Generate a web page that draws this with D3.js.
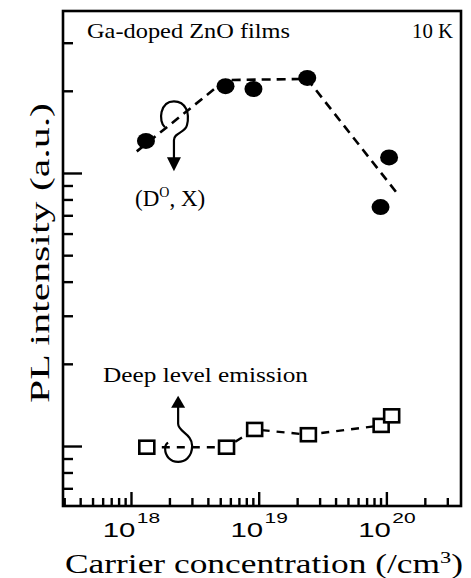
<!DOCTYPE html>
<html>
<head>
<meta charset="utf-8">
<script src="https://cdn.jsdelivr.net/npm/d3@7"></script>
<style>
  html, body { margin: 0; padding: 0; background: #fff; }
  svg { display: block; }
  .serif { font-family: "Liberation Serif", "Times New Roman", Times, serif; }
  .sans { font-family: "Liberation Sans", Arial, Helvetica, sans-serif; }
</style>
</head>
<body>
<svg id="chart" width="471" height="578"></svg>
<script>
// ---- data ----
const donorX = [1.31e18, 5.5e18, 9.1e18, 2.4e19, 1.05e20, 0.9e20];
const donorY = [13.1, 20.8, 20.3, 22.3, 11.4, 7.5];
const fitX = [1.11e18, 5.5e18, 2.4e19, 1.22e20];
const fitY = [12.0, 21.9, 22.1, 8.4];
const deepX = [1.33e18, 5.6e18, 9.3e18, 2.45e19, 9.1e19, 1.1e20];
const deepY = [0.99, 0.99, 1.15, 1.10, 1.19, 1.29];
const xMajorTicks = [1e18, 1e19, 1e20];
const xTickExponents = ["18", "19", "20"];
const xMinorTicks = [3e17,4e17,5e17,6e17,7e17,8e17,9e17,
                     2e18,3e18,4e18,5e18,6e18,7e18,8e18,9e18,
                     2e19,3e19,4e19,5e19,6e19,7e19,8e19,9e19,
                     2e20,3e20];
const yMajorTicks = [1, 10];
const yMinorTicks = [0.7,0.8,0.9,2,3,4,5,6,7,8,9,20,30];
const xDomain = [2.935e17, 3.84e20];
const yDomain = [0.603, 39.2];
const donorArrowAnchor = [2.17e18, 13.4];
const deepArrowAnchor = [2.34e18, 1.38];

// ---- layout ----
const L = 63, R = 461, T = 11, B = 506;
const svg = d3.select("#chart");
const x = d3.scaleLog().domain(xDomain).range([L, R]);
const y = d3.scaleLog().domain(yDomain).range([B, T]);

// frame
svg.append("rect").attr("x", L).attr("y", T).attr("width", R - L).attr("height", B - T)
  .attr("fill", "none").attr("stroke", "#000").attr("stroke-width", 2.6);

function styleAxis(g) {
  g.select(".domain").remove();
  g.selectAll(".tick line").attr("stroke", "#000").attr("stroke-width", 2.4);
}

// y axis ticks (inward)
svg.append("g").attr("transform", `translate(${L},0)`)
  .call(d3.axisLeft(y).tickValues(yMajorTicks).tickSizeInner(-19).tickSizeOuter(0).tickFormat(""))
  .call(styleAxis);
svg.append("g").attr("transform", `translate(${L},0)`)
  .call(d3.axisLeft(y).tickValues(yMinorTicks).tickSizeInner(-10).tickSizeOuter(0).tickFormat(""))
  .call(styleAxis);

// x axis ticks (inward)
const xMajG = svg.append("g").attr("transform", `translate(0,${B})`)
  .call(d3.axisBottom(x).tickValues(xMajorTicks).tickSizeInner(-14).tickSizeOuter(0).tickFormat(""))
  .call(styleAxis);
svg.append("g").attr("transform", `translate(0,${B})`)
  .call(d3.axisBottom(x).tickValues(xMinorTicks).tickSizeInner(-8).tickSizeOuter(0).tickFormat(""))
  .call(styleAxis);
xMajG.attr("font-family", null);

// x tick labels 10^n
xMajG.selectAll(".tick text").each(function(d, i) {
  const t = d3.select(this);
  t.text(null).attr("y", 31).attr("dy", null).attr("class", "sans")
    .attr("fill", "#000").attr("font-size", 21)
    .attr("text-anchor", "middle").attr("transform", "scale(1.4,1)");
  t.append("tspan").text("10");
  t.append("tspan").attr("dy", -14).attr("dx", 1).attr("font-size", 15).text(xTickExponents[i]);
});

// axis titles
svg.append("text").attr("class", "serif").attr("x", 264).attr("y", 573).attr("text-anchor", "middle")
  .attr("font-size", 27)
  .attr("textLength", 398).attr("lengthAdjust", "spacingAndGlyphs")
  .call(t => {
    t.append("tspan").text("Carrier concentration (/cm");
    t.append("tspan").attr("dy", -10).attr("font-size", 17).text("3");
    t.append("tspan").attr("dy", 10).text(")");
  });

svg.append("text").attr("class", "serif").attr("transform", "translate(49,253) rotate(-90)")
  .attr("text-anchor", "middle").attr("font-size", 27)
  .attr("textLength", 300).attr("lengthAdjust", "spacingAndGlyphs")
  .text("PL intensity (a.u.)");

// in-plot labels
svg.append("text").attr("class", "serif").attr("x", 87).attr("y", 38).attr("font-size", 21)
  .attr("textLength", 203).attr("lengthAdjust", "spacingAndGlyphs").text("Ga-doped ZnO films");
svg.append("text").attr("class", "serif").attr("x", 412).attr("y", 38).attr("font-size", 21)
  .attr("textLength", 41).attr("lengthAdjust", "spacingAndGlyphs").text("10 K");
svg.append("text").attr("class", "serif").attr("x", 103).attr("y", 382).attr("font-size", 20)
  .attr("textLength", 205).attr("lengthAdjust", "spacingAndGlyphs").text("Deep level emission");
svg.append("text").attr("class", "serif").attr("x", 135).attr("y", 206).attr("font-size", 23)
  .call(t => {
    t.append("tspan").text("(D");
    t.append("tspan").attr("dy", -9).attr("font-size", 14).text("O");
    t.append("tspan").attr("dy", 9).text(", X)");
  });

// dashed lines
const line = d3.line().x(d => x(d[0])).y(d => y(d[1]));
svg.append("path").datum(d3.zip(fitX, fitY)).attr("d", line)
  .attr("fill", "none").attr("stroke", "#000").attr("stroke-width", 2.6)
  .attr("stroke-dasharray", "9,6");
svg.append("path").datum(d3.zip(deepX, deepY)).attr("d", line)
  .attr("fill", "none").attr("stroke", "#000").attr("stroke-width", 2.4)
  .attr("stroke-dasharray", "8,7");

// donor-bound exciton points
svg.append("g").selectAll("ellipse").data(d3.zip(donorX, donorY)).join("ellipse")
  .attr("cx", d => x(d[0])).attr("cy", d => y(d[1])).attr("rx", 9).attr("ry", 8)
  .attr("fill", "#000");

// deep level points (open squares)
svg.append("g").selectAll("rect").data(d3.zip(deepX, deepY)).join("rect")
  .attr("x", d => x(d[0]) - 7.5).attr("y", d => y(d[1]) - 6.5)
  .attr("width", 15).attr("height", 13)
  .attr("fill", "#fff").attr("stroke", "#000").attr("stroke-width", 2.6);

// curly arrows
const a1 = [x(donorArrowAnchor[0]), y(donorArrowAnchor[1])];
const g1 = svg.append("g").attr("transform", `translate(${a1[0]},${a1[1]})`);
g1.append("path")
  .attr("d", "M -9,-11 C -16,-17 -14,-37 0,-37 C 12,-37 16,-25 13,-13 C 11,-5 0,-6 0,2 L 0,20")
  .attr("fill", "none").attr("stroke", "#000").attr("stroke-width", 2.2);
g1.append("path").attr("d", "M -7,19 L 7,19 L 0,33 Z").attr("fill", "#000");

const a2 = [x(deepArrowAnchor[0]), y(deepArrowAnchor[1])];
const g2 = svg.append("g").attr("transform", `translate(${a2[0]},${a2[1]})`);
g2.append("path")
  .attr("d", "M 0,-1 L 0,16 C 0,24 14,26 14,38 C 14,50 6,54 0,54 C -8,54 -13,48 -13,41 C -13,38 -12,36 -10,35")
  .attr("fill", "none").attr("stroke", "#000").attr("stroke-width", 2.2);
g2.append("path").attr("d", "M -7,0 L 7,0 L 0,-12 Z").attr("fill", "#000");
</script>
</body>
</html>
